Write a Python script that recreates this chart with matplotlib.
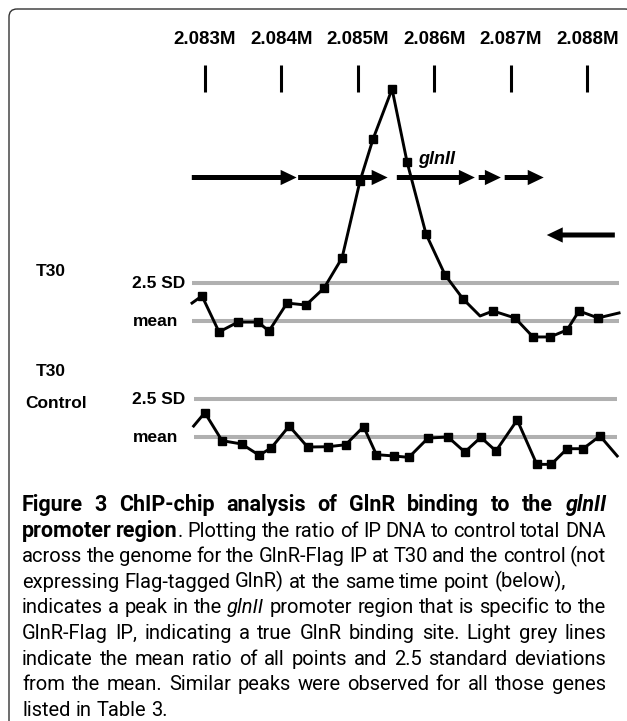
import matplotlib
matplotlib.use('Agg')
import matplotlib.pyplot as plt
from matplotlib.patches import FancyBboxPatch, FancyArrowPatch, ArrowStyle
from matplotlib.transforms import blended_transform_factory

# genome positions in kb, ratios in SD units above the mean
tick_kb = [2083, 2084, 2085, 2086, 2087, 2088]
tick_labels = ['2.083M', '2.084M', '2.085M', '2.086M', '2.087M', '2.088M']

t30_kb = [2082.833, 2082.963, 2083.186, 2083.434, 2083.695, 2083.839, 2084.075,
          2084.323, 2084.559, 2084.794, 2085.029, 2085.199, 2085.448, 2085.644,
          2085.892, 2086.141, 2086.376, 2086.598, 2086.768, 2087.055, 2087.291,
          2087.513, 2087.735, 2087.892, 2088.141, 2088.415]
t30_sd = [1.16, 1.63, -0.74, -0.09, -0.09, -0.68, 1.16, 1.03, 2.15, 4.13, 9.19,
          11.95, 15.24, 10.44, 5.70, 3.01, 1.43, 0.31, 0.64, 0.18, -1.07, -1.07,
          -0.61, 0.64, 0.18, 0.51]

ctrl_kb = [2082.854, 2083.000, 2083.225, 2083.481, 2083.711, 2083.868, 2084.103,
           2084.344, 2084.610, 2084.841, 2085.076, 2085.243, 2085.473, 2085.667,
           2085.918, 2086.179, 2086.399, 2086.608, 2086.806, 2087.084, 2087.340,
           2087.528, 2087.737, 2087.946, 2088.166, 2088.391]
ctrl_sd = [0.74, 1.62, -0.22, -0.44, -1.18, -0.70, 0.74, -0.64, -0.62, -0.49, 0.70,
           -1.14, -1.23, -1.32, -0.05, 0.02, -0.97, 0.00, -0.90, 1.14, -1.78, -1.78,
           -0.75, -0.75, 0.09, -1.23]

gene_start = [2082.83, 2084.22, 2085.51, 2086.58, 2086.92, 2088.36]
gene_end = [2084.20, 2085.39, 2086.53, 2086.87, 2087.43, 2087.47]
gene_row = [0, 0, 0, 0, 0, 1]

# (runs, justified)
caption = [
    ([("Figure 3 ChIP-chip analysis of GlnR binding to the ", 'bold', 'normal'),
      ("glnII", 'bold', 'italic')], True),
    ([("promoter region", 'bold', 'normal'),
      (". Plotting the ratio of IP DNA to control total DNA", 'normal', 'normal')], True),
    ([("across the genome for the GlnR-Flag IP at T30 and the control (not", 'normal', 'normal')], True),
    ([("expressing Flag-tagged GlnR) at the same time point (below),", 'normal', 'normal')], False),
    ([("indicates a peak in the ", 'normal', 'normal'), ("glnII", 'normal', 'italic'),
      (" promoter region that is specific to the", 'normal', 'normal')], True),
    ([("GlnR-Flag IP, indicating a true GlnR binding site. Light grey lines", 'normal', 'normal')], True),
    ([("indicate the mean ratio of all points and 2.5 standard deviations", 'normal', 'normal')], True),
    ([("from the mean. Similar peaks were observed for all those genes", 'normal', 'normal')], True),
    ([("listed in Table 3.", 'normal', 'normal')], False),
]

W, H = 627, 721
fig = plt.figure(figsize=(W / 100, H / 100), dpi=100)
ax0 = fig.add_axes([0, 0, 1, 1])
ax0.set_xlim(0, W)
ax0.set_ylim(H, 0)
ax0.axis('off')

# panel frame
ax0.add_patch(FancyBboxPatch((9, 9), 624, 760, boxstyle='round,pad=0,rounding_size=8',
                             fc='none', ec='#333333', lw=1.0))

px_per_kb = 76.5
kb_left = 2083 - 204.8 / px_per_kb
px_per_sd = 15.2
lab = dict(family='Liberation Sans', fontweight='bold', fontsize=12.5)


def track(mean_px):
    a = fig.add_axes([0, 0, 1, 1])
    a.set_xlim(kb_left, kb_left + W / px_per_kb)
    a.set_ylim(-(H - mean_px) / px_per_sd, mean_px / px_per_sd)
    a.axis('off')
    return a


ax = track(320.7)
axc = track(437.3)

for a, xs, ys, mk in [(ax, t30_kb, t30_sd, [i for i in range(1, 25) if i != 17]),
                      (axc, ctrl_kb, ctrl_sd, list(range(1, 25)))]:
    a.hlines([0, 2.5], xs[0], xs[-1], color='#b0b0b0', lw=2.9, zorder=1)
    a.plot(xs, ys, color='black', lw=2.1, marker='s', ms=5.5, markevery=mk, zorder=3)

bt = blended_transform_factory(ax.transData, ax0.transData)
ax.vlines(tick_kb, 65, 92, transform=bt, color='black', lw=2.2)
for k, t in zip(tick_kb, tick_labels):
    ax.text(k, 40, t, transform=bt, ha='center', va='center',
            family='Liberation Sans', fontweight='bold', fontsize=13.5)

row_y = [177.5, 235]
style = ArrowStyle.Simple(head_length=11.5, head_width=11, tail_width=3.6)
for s, e, r in zip(gene_start, gene_end, gene_row):
    ax.add_patch(FancyArrowPatch((s, row_y[r]), (e, row_y[r]), transform=bt,
                                 arrowstyle=style, mutation_scale=1, color='black',
                                 lw=0, shrinkA=0, shrinkB=0, clip_on=False))
ax0.text(437, 159, 'glnII', ha='center', va='center', family='Liberation Sans',
         fontweight='bold', fontstyle='italic', fontsize=13)

# left labels
ax0.text(51, 272, 'T30', ha='center', va='center', **lab)
ax0.text(51, 372, 'T30', ha='center', va='center', **lab)
ax0.text(56, 403, 'Control', ha='center', va='center', **lab)
for y_sd, y_mean in [(284, 321), (400, 437)]:
    ax0.text(185, y_sd, '2.5 SD', ha='right', va='center', **lab)
    ax0.text(178, y_mean, 'mean', ha='right', va='center', **lab)

# caption, justified between x0 and x1
cap_font = 'Roboto'
x0, x1 = 22, 606
renderer = fig.canvas.get_renderer()


def tw(txt, size, wt='normal', st='normal'):
    t = ax0.text(0, 0, txt, fontsize=size, fontweight=wt, fontstyle=st, family=cap_font)
    w = t.get_window_extent(renderer).width
    t.remove()
    return w


def words_of(runs):
    words = [[]]
    for txt, wt, st in runs:
        for j, p in enumerate(txt.split(' ')):
            if j > 0:
                words.append([])
            if p:
                words[-1].append((p, wt, st))
    return [w for w in words if w]


def natural(runs, size):
    ws = words_of(runs)
    space = tw('a a', size) - tw('aa', size)
    return sum(tw(p, size, wt, st) for w in ws for p, wt, st in w) + space * (len(ws) - 1)


size = 10 * 545 / natural(caption[3][0], 10)
space = tw('a a', size) - tw('aa', size)


def fs(wt):
    return size * 1.07 if wt == 'bold' else size


for i, (runs, just) in enumerate(caption):
    ws = words_of(runs)
    widths = [[tw(p, fs(wt), wt, st) for p, wt, st in w] for w in ws]
    total = sum(sum(w) for w in widths)
    gap = (x1 - x0 - total) / (len(ws) - 1) if just else space
    x = x0
    y = 511 + 25.6 * i
    for w, wl in zip(ws, widths):
        for (p, wt, st), pw in zip(w, wl):
            ax0.text(x, y, p, fontsize=fs(wt), fontweight=wt, fontstyle=st,
                     family=cap_font, ha='left', va='baseline')
            x += pw
        x += gap

fig.savefig('out.png', dpi=100)
